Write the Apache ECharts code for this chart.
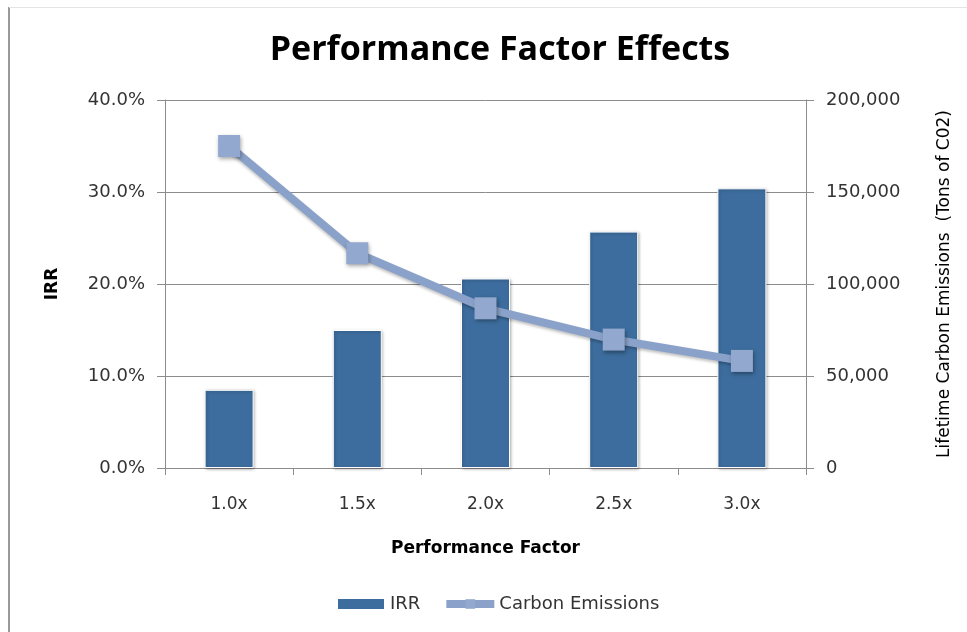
<!DOCTYPE html>
<html>
<head>
<meta charset="utf-8">
<script src="https://cdn.jsdelivr.net/npm/echarts@6/dist/echarts.min.js"></script>
<style>
html,body{margin:0;padding:0;background:#fff;}
#chart{width:967px;height:632px;}
</style>
</head>
<body>
<div id="chart"></div>
<script>
const categories = ['1.0x', '1.5x', '2.0x', '2.5x', '3.0x'];
const irrValues = [8.5, 15.0, 20.6, 25.7, 30.4];
const carbonValues = [175000, 116700, 86800, 69800, 58200];
const irrTicks = { min: 0, max: 40, interval: 10 };
const carbonTicks = { min: 0, max: 200000, interval: 50000 };

const chart = echarts.init(document.getElementById('chart'));
const labelFont = 'DejaVu Sans';
const axisGray = '#8c8c8c';
const textColor = '#333333';
const lineColor = '#8aa2c9';
const markerColor = '#93a8cf';

chart.setOption({
  backgroundColor: '#ffffff',
  animation: false,
  title: {
    text: 'Performance Factor Effects',
    left: 495, top: 28, textAlign: 'center',
    textStyle: { fontFamily: 'Open Sans', fontWeight: 'bold', fontSize: 34, color: '#000' }
  },
  graphic: [
    { type: 'line', shape: { x1: 9, y1: 7, x2: 9, y2: 632 }, style: { stroke: '#999', lineWidth: 2 } },
    { type: 'line', shape: { x1: 9, y1: 7.5, x2: 967, y2: 7.5 }, style: { stroke: '#e4e4e4', lineWidth: 1 } }
  ],
  legend: {
    bottom: 14, left: 331,
    itemGap: 22,
    itemWidth: 48, itemHeight: 12,
    textStyle: { fontFamily: labelFont, fontSize: 18, color: textColor },
    data: [
      { name: 'IRR', icon: 'rect' },
      { name: 'Carbon Emissions', lineStyle: { width: 8, color: lineColor }, itemStyle: { color: markerColor } }
    ]
  },
  grid: { left: 165, right: 161, top: 100, bottom: 164 },
  xAxis: {
    type: 'category',
    data: categories,
    name: 'Performance Factor',
    nameLocation: 'middle', nameGap: 72,
    nameTextStyle: { fontFamily: labelFont, fontWeight: 'bold', fontSize: 17, color: '#000' },
    axisLine: { lineStyle: { color: axisGray } },
    axisTick: { show: true, length: 7, lineStyle: { color: axisGray } },
    axisLabel: { margin: 28, fontFamily: labelFont, fontSize: 17, color: textColor }
  },
  yAxis: [
    {
      type: 'value', position: 'left',
      min: irrTicks.min, max: irrTicks.max, interval: irrTicks.interval,
      name: 'IRR', nameLocation: 'middle', nameGap: 104, nameRotate: 90,
      nameTextStyle: { fontFamily: labelFont, fontWeight: 'bold', fontSize: 17, color: '#000' },
      axisLine: { show: true, lineStyle: { color: axisGray } },
      axisTick: { show: true, length: 8, lineStyle: { color: axisGray } },
      splitLine: { show: true, lineStyle: { color: '#8c8c8c', width: 1 } },
      axisLabel: { margin: 20, fontFamily: labelFont, fontSize: 18, color: textColor,
        formatter: v => v.toFixed(1) + '%' }
    },
    {
      type: 'value', position: 'right',
      min: carbonTicks.min, max: carbonTicks.max, interval: carbonTicks.interval,
      name: 'Lifetime Carbon Emissions  (Tons of C02)', nameLocation: 'middle', nameGap: 130, nameRotate: 90,
      nameTextStyle: { fontFamily: labelFont, fontWeight: 'normal', fontSize: 17, color: '#000' },
      axisLine: { show: true, lineStyle: { color: axisGray } },
      axisTick: { show: true, length: 8, lineStyle: { color: axisGray } },
      splitLine: { show: false },
      axisLabel: { margin: 20, fontFamily: labelFont, fontSize: 18, color: textColor,
        formatter: v => v.toLocaleString('en-US') }
    }
  ],
  series: [
    {
      name: 'IRR', type: 'bar', yAxisIndex: 0,
      data: irrValues, barWidth: 49,
      itemStyle: { color: '#3d6d9e', borderColor: '#ffffff', borderWidth: 1,
        shadowBlur: 3, shadowColor: 'rgba(0,0,0,0.3)', shadowOffsetX: 1, shadowOffsetY: 1 }
    },
    {
      name: 'Carbon Emissions', type: 'line', yAxisIndex: 1,
      data: carbonValues,
      symbol: 'rect', symbolSize: 22,
      lineStyle: { color: lineColor, width: 8,
        shadowBlur: 3, shadowColor: 'rgba(0,0,0,0.25)', shadowOffsetY: 2 },
      itemStyle: { color: markerColor, shadowBlur: 4, shadowColor: 'rgba(0,0,0,0.35)', shadowOffsetX: 1, shadowOffsetY: 2 },
      z: 5
    }
  ]
});
</script>
</body>
</html>
